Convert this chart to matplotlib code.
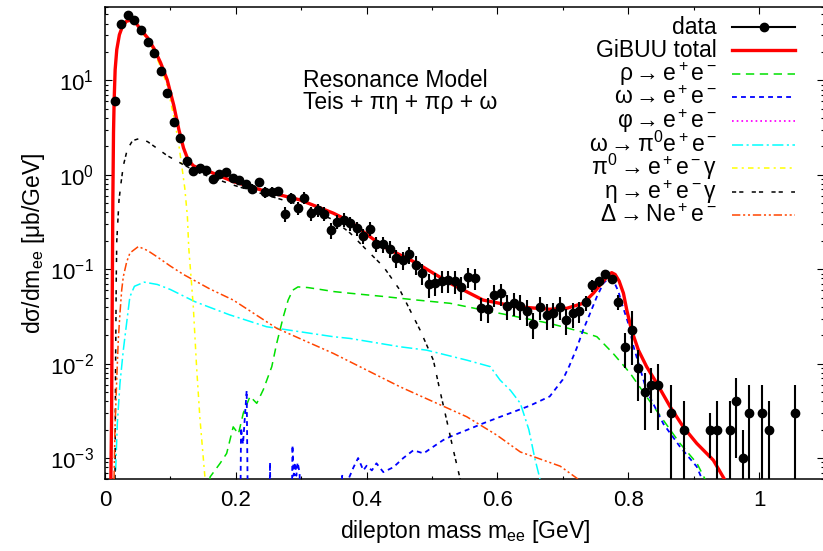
import numpy as np
import matplotlib
matplotlib.use('Agg')
import matplotlib.pyplot as plt
from matplotlib.lines import Line2D
from matplotlib.ticker import MultipleLocator, FuncFormatter, LogLocator

# ---- measured spectrum (bin centres, GeV) -----------------------------------
m_data = [0.015, 0.025, 0.035, 0.045, 0.055, 0.065, 0.075, 0.085, 0.095, 0.105,
          0.115, 0.125, 0.135, 0.145, 0.155, 0.165, 0.175, 0.185, 0.195, 0.205,
          0.215, 0.225, 0.235, 0.245, 0.255, 0.265, 0.275, 0.285, 0.295, 0.305,
          0.315, 0.325, 0.335, 0.345, 0.355, 0.365, 0.375, 0.385, 0.395, 0.405,
          0.415, 0.425, 0.435, 0.445, 0.455, 0.465, 0.475, 0.485, 0.495, 0.505,
          0.515, 0.525, 0.535, 0.545, 0.555, 0.565, 0.575, 0.585, 0.595, 0.605,
          0.615, 0.625, 0.635, 0.645, 0.655, 0.665, 0.675, 0.685, 0.695, 0.705,
          0.715, 0.725, 0.735, 0.745, 0.755, 0.765, 0.775, 0.785, 0.795, 0.805,
          0.815, 0.825, 0.835, 0.845, 0.865, 0.885, 0.925, 0.935, 0.955, 0.965,
          0.975, 0.985, 1.005, 1.015, 1.055]
xs_data = [6.0, 39.7, 49.8, 43.3, 34.5, 25.7, 19.5, 12.6, 7.41, 3.65,
           2.47, 1.40, 1.11, 1.17, 1.13, 0.907, 1.03, 1.08, 0.929, 0.879,
           0.797, 0.716, 0.837, 0.655, 0.665, 0.672, 0.389, 0.570, 0.450, 0.574,
           0.393, 0.422, 0.389, 0.259, 0.320, 0.336, 0.307, 0.272, 0.226, 0.270,
           0.186, 0.184, 0.165, 0.131, 0.125, 0.144, 0.112, 0.0907, 0.0694, 0.0716,
           0.0757, 0.0764, 0.0751, 0.0649, 0.0828, 0.0802, 0.0392, 0.0382, 0.0538, 0.0556,
           0.0408, 0.0436, 0.0411, 0.0361, 0.0261, 0.0401, 0.0330, 0.0341, 0.0398, 0.0290,
           0.0341, 0.0359, 0.0445, 0.0676, 0.0743, 0.0881, 0.0780, 0.0450, 0.0150, 0.0227,
           0.0090, 0.0050, 0.0060, 0.0060, 0.003, 0.002, 0.002, 0.002, 0.002, 0.004,
           0.001, 0.003, 0.003, 0.002, 0.003]
err_data = [0.2, 1.0, 1.2, 1.1, 0.9, 0.7, 0.5, 0.35, 0.22, 0.12,
            0.09, 0.06, 0.08, 0.09, 0.09, 0.09, 0.09, 0.10, 0.09, 0.09,
            0.08, 0.08, 0.09, 0.08, 0.08, 0.08, 0.07, 0.08, 0.07, 0.08,
            0.065, 0.065, 0.065, 0.05, 0.055, 0.055, 0.05, 0.045, 0.04, 0.045,
            0.035, 0.035, 0.033, 0.028, 0.027, 0.03, 0.025, 0.022, 0.02, 0.02,
            0.02, 0.02, 0.02, 0.018, 0.02, 0.02, 0.011, 0.011, 0.014, 0.015,
            0.012, 0.012, 0.012, 0.011, 0.008, 0.011, 0.010, 0.010, 0.011, 0.009,
            0.010, 0.009, 0.008, 0.010, 0.009, 0.009, 0.008, 0.008, 0.006, 0.013,
            0.005, 0.003, 0.003, 0.004, 0.003, 0.002, 0.001, 0.002, 0.002, 0.003,
            0.001, 0.003, 0.003, 0.002, 0.003]

# ---- GiBUU model curves -------------------------------------------------------
m_total = [0.009, 0.010, 0.011, 0.012, 0.013, 0.014, 0.0155, 0.018, 0.022, 0.027,
           0.033, 0.040, 0.048, 0.055, 0.065, 0.075, 0.085, 0.095, 0.105, 0.113,
           0.120, 0.127, 0.135, 0.145, 0.160, 0.196, 0.247, 0.298, 0.349, 0.375,
           0.400, 0.4255, 0.4766, 0.5275, 0.578, 0.6295, 0.680, 0.706, 0.731, 0.7466,
           0.762, 0.770, 0.7747, 0.780, 0.786, 0.7926, 0.7977, 0.805, 0.8155, 0.828,
           0.8436, 0.864, 0.884, 0.9047, 0.930, 0.950]
xs_total = [6e-4, 0.0025, 0.04, 0.54, 2.8, 6.2, 13.0, 21.2, 30.5, 38.0,
            42.5, 43.5, 40.0, 34.3, 28.4, 21.7, 15.4, 10.2, 5.5, 3.0,
            1.93, 1.44, 1.25, 1.16, 1.08, 0.85, 0.665, 0.543, 0.393, 0.32,
            0.235, 0.174, 0.116, 0.0711, 0.0472, 0.0401, 0.0377, 0.0386, 0.0436, 0.0557,
            0.0746, 0.088, 0.092, 0.088, 0.075, 0.0557, 0.037, 0.0227, 0.0139, 0.0093,
            0.0062, 0.0035, 0.00214, 0.00143, 0.00095, 5.5e-4]

m_rho = [0.159, 0.1606, 0.168, 0.176, 0.186, 0.196, 0.204, 0.2115, 0.2217, 0.232,
         0.242, 0.255, 0.2625, 0.2726, 0.280, 0.287, 0.295, 0.310, 0.330, 0.350,
         0.3746, 0.4255, 0.4766, 0.5275, 0.578, 0.6295, 0.680, 0.731, 0.752, 0.777,
         0.803, 0.828, 0.854, 0.879, 0.905, 0.920]
xs_rho = [3e-4, 6.3e-4, 7.4e-4, 8.8e-4, 0.00112, 0.00214, 0.0018, 0.0030, 0.0045, 0.0038,
          0.0053, 0.0093, 0.0164, 0.0314, 0.0472, 0.060, 0.065, 0.064, 0.061, 0.058,
          0.0557, 0.0515, 0.0472, 0.0436, 0.037, 0.0314, 0.0267, 0.0215, 0.0193, 0.0128,
          0.0079, 0.00446, 0.0025, 0.00143, 8.8e-4, 5.5e-4]

m_omega = [0.2064, 0.2080, 0.2110, 0.2166, 0.2190, 0.2510, 0.2523, 0.2536, 0.2850, 0.2866,
           0.2885, 0.2905, 0.2925, 0.2945, 0.2975, 0.3000, 0.3600, 0.3625, 0.3700, 0.3800,
           0.3870, 0.3950, 0.4000, 0.4080, 0.4150, 0.4255, 0.4410, 0.4560, 0.4715, 0.4870,
           0.5020, 0.5170, 0.5275, 0.5530, 0.5780, 0.6040, 0.6200, 0.6500, 0.6800, 0.7000,
           0.7100, 0.7210, 0.7310, 0.7416, 0.7520, 0.7620, 0.7696, 0.7770, 0.7850, 0.7900,
           0.8000, 0.8080, 0.8280, 0.8537, 0.8790, 0.9047, 0.9150]
xs_omega = [1e-4, 0.0021, 0.0014, 0.0052, 1e-4, 1e-4, 9e-4, 1e-4, 1e-4, 0.00137,
            6.5e-4, 9e-4, 6.5e-4, 9e-4, 7e-4, 1e-4, 1e-4, 6.5e-4, 5.5e-4, 8e-4,
            0.0010, 7.4e-4, 8.3e-4, 7.4e-4, 8.8e-4, 7.1e-4, 8e-4, 0.0010, 0.00121, 0.00112,
            0.00132, 0.00155, 0.00168, 0.00198, 0.00233, 0.00273, 0.0030, 0.0036, 0.0045, 0.0068,
            0.0095, 0.0145, 0.0227, 0.0341, 0.0513, 0.0711, 0.080, 0.077, 0.058, 0.0436,
            0.0267, 0.0152, 0.0052, 0.0023, 0.00132, 8.1e-4, 5.5e-4]

m_omega_dal = [0.0163, 0.0188, 0.0229, 0.028, 0.033, 0.038, 0.045, 0.060, 0.080, 0.100,
               0.1376, 0.190, 0.247, 0.349, 0.3746, 0.451, 0.4917, 0.553, 0.589, 0.604,
               0.620, 0.635, 0.648, 0.657, 0.665]
xs_omega_dal = [7.4e-4, 0.0023, 0.0062, 0.0139, 0.0267, 0.051, 0.066, 0.073, 0.069, 0.061,
                0.0453, 0.033, 0.0246, 0.0193, 0.0185, 0.0151, 0.0139, 0.0109, 0.0093, 0.0067,
                0.0052, 0.0038, 0.0020, 0.0010, 6e-4]

m_pi0 = [0.009, 0.010, 0.011, 0.012, 0.013, 0.014, 0.0155, 0.018, 0.022, 0.027,
         0.033, 0.040, 0.048, 0.055, 0.065, 0.075, 0.085, 0.095, 0.105, 0.112,
         0.117, 0.122, 0.126, 0.128, 0.132, 0.135, 0.140, 0.145, 0.153]
xs_pi0 = [6e-4, 0.0025, 0.04, 0.52, 2.7, 6.0, 12.6, 20.5, 29.6, 37.0,
          41.3, 42.2, 38.8, 33.2, 27.2, 20.4, 13.9, 8.9, 4.2, 2.3,
          1.3, 0.72, 0.36, 0.17, 0.075, 0.04, 0.0093, 0.0027, 6e-4]

m_eta = [0.0153, 0.0162, 0.0172, 0.018, 0.0214, 0.0245, 0.028, 0.034, 0.042, 0.052,
         0.065, 0.080, 0.095, 0.120, 0.145, 0.196, 0.247, 0.298, 0.349, 0.375,
         0.400, 0.4255, 0.451, 0.4638, 0.4817, 0.502, 0.512, 0.5225, 0.5326, 0.543]
xs_eta = [6e-4, 0.01, 0.08, 0.2, 0.54, 0.82, 1.25, 1.85, 2.3, 2.42,
          2.25, 1.9, 1.6, 1.28, 1.04, 0.78, 0.61, 0.48, 0.334, 0.241,
          0.160, 0.107, 0.060, 0.040, 0.0227, 0.0109, 0.0052, 0.0025, 0.00121, 6e-4]

m_delta = [0.0138, 0.0153, 0.0179, 0.0203, 0.0229, 0.0255, 0.028, 0.0332, 0.0382, 0.051,
           0.065, 0.080, 0.100, 0.120, 0.160, 0.196, 0.2625, 0.349, 0.451, 0.553,
           0.599, 0.635, 0.696, 0.723]
xs_delta = [6e-4, 0.00214, 0.0067, 0.0178, 0.0344, 0.060, 0.0835, 0.12, 0.149, 0.174,
            0.158, 0.135, 0.108, 0.088, 0.062, 0.0472, 0.0237, 0.01285, 0.00569, 0.00274,
            0.00175, 0.00116, 8.2e-4, 6e-4]

plt.rcParams['font.family'] = ['Liberation Sans', 'DejaVu Sans']
plt.rcParams['mathtext.fontset'] = 'custom'
plt.rcParams['mathtext.rm'] = 'Liberation Sans'
plt.rcParams['mathtext.it'] = 'Liberation Sans:italic'
plt.rcParams['axes.unicode_minus'] = False
plt.rcParams['lines.scale_dashes'] = False

FS = 16.5
W, H = 823, 551

# line styles per channel
styles = {
    'total': dict(color='#ff0000', lw=2.4, ls='-'),
    'rho':   dict(color='#00e000', lw=1.1, dashes=(6, 4)),
    'omega': dict(color='#0000ff', lw=1.3, dashes=(3.5, 3)),
    'phi':   dict(color='#ff00ff', lw=1.3, dashes=(1.2, 2.2)),
    'wdal':  dict(color='#00ffff', lw=1.1, dashes=(8, 2.5, 1.5, 2.5)),
    'pi0':   dict(color='#ffff00', lw=1.1, dashes=(4, 3, 1.5, 3)),
    'eta':   dict(color='#000000', lw=1.1, dashes=(3, 2.2, 3, 6)),
    'delta': dict(color='#ff4500', lw=1.1, dashes=(6, 2, 1.5, 2, 1.5, 2)),
}

fig = plt.figure(figsize=(W / 100, H / 100), dpi=100)
ax = fig.add_axes([105 / W, 1 - 479 / H, (824.5 - 105) / W, (479 - 7) / H])

curves = [
    (m_rho, xs_rho, 'rho'),
    (m_omega, xs_omega, 'omega'),
    (m_omega_dal, xs_omega_dal, 'wdal'),
    (m_pi0, xs_pi0, 'pi0'),
    (m_eta, xs_eta, 'eta'),
    (m_delta, xs_delta, 'delta'),
    (m_total, xs_total, 'total'),
]
for m, xs, key in curves:
    ax.plot(m, xs, zorder=3, **styles[key])

ax.errorbar(m_data, xs_data, yerr=err_data, fmt='o', color='black', ms=6,
            elinewidth=1.5, capsize=0, zorder=4)

ax.set_yscale('log')
ax.set_xlim(0, 1.1)
ax.set_ylim(6e-4, 60)

ax.xaxis.set_major_locator(MultipleLocator(0.2))
ax.xaxis.set_minor_locator(MultipleLocator(0.1))
ax.xaxis.set_major_formatter(FuncFormatter(lambda v, p: f'{v:g}'))
ax.yaxis.set_major_locator(LogLocator(base=10))
ax.yaxis.set_minor_locator(LogLocator(base=10, subs=np.arange(2, 10)))
ax.tick_params(which='both', direction='in', top=True, right=True, labelsize=16, width=0.8)
ax.tick_params(which='major', length=5, pad=8)
ax.tick_params(which='minor', length=2.5)
for s in ax.spines.values():
    s.set_linewidth(1.1)

ax.set_xlabel(r'dilepton mass m$_{\mathregular{ee}}$ [GeV]', fontsize=FS, labelpad=5)
ax.set_ylabel(r'd$\mathregular{\sigma}$/dm$_{\mathregular{ee}}$ [$\mathregular{\mu}$b/GeV]',
              fontsize=FS, labelpad=2)

fig.text(303 / W, 1 - 87 / H, 'Resonance Model', fontsize=FS, va='baseline')
fig.text(303 / W, 1 - 109 / H, 'Teis + πη + πρ + ω', fontsize=FS, va='baseline')

# ---- key, text right-aligned with the line sample to its right ----------------
key_rows = [
    ('data', None),
    ('GiBUU total', 'total'),
    (r'$\mathregular{ρ \rightarrow e^+e^-}$', 'rho'),
    (r'$\mathregular{ω \rightarrow e^+e^-}$', 'omega'),
    (r'$\mathregular{φ \rightarrow e^+e^-}$', 'phi'),
    (r'$\mathregular{ω \rightarrow π^0e^+e^-}$', 'wdal'),
    (r'$\mathregular{π^0 \rightarrow e^+e^-γ}$', 'pi0'),
    (r'$\mathregular{η \rightarrow e^+e^-γ}$', 'eta'),
    (r'$\mathregular{Δ \rightarrow Ne^+e^-}$', 'delta'),
]
x_txt, x0, x1 = 717, 732, 795
for i, (label, key) in enumerate(key_rows):
    yl = 26.5 + 23.6 * i
    fig.text(x_txt / W, 1 - (yl + 7) / H, label, fontsize=FS, ha='right', va='baseline')
    if key is None:
        fig.add_artist(Line2D([x0 / W, x1 / W], [1 - yl / H] * 2, color='black', lw=1.5,
                              transform=fig.transFigure))
        fig.add_artist(Line2D([(x0 + x1) / 2 / W], [1 - yl / H], marker='o', ms=6,
                              color='black', transform=fig.transFigure))
    else:
        fig.add_artist(Line2D([x0 / W, x1 / W], [1 - yl / H] * 2,
                              transform=fig.transFigure, **styles[key]))

fig.savefig('out.png', dpi=100)
